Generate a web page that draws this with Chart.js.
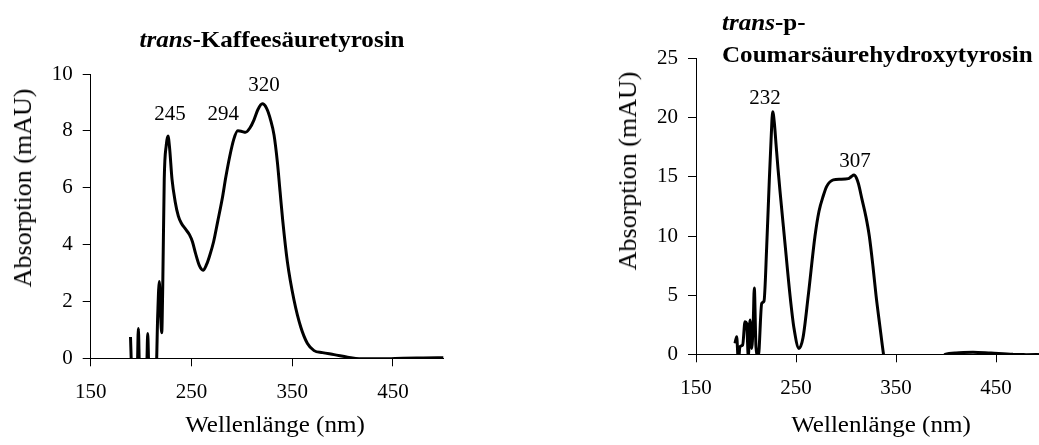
<!DOCTYPE html>
<html>
<head>
<meta charset="utf-8">
<script src="https://cdn.jsdelivr.net/npm/chart.js@4.4.1/dist/chart.umd.min.js"></script>
<style>
html,body{margin:0;padding:0;width:1039px;height:445px;overflow:hidden;background:#fff;}
.wrap{position:absolute;top:0;height:445px;}
.t{position:absolute;font-family:'Liberation Serif','Times New Roman',serif;color:#000;white-space:nowrap;line-height:1;}
</style>
</head>
<body>
<div class="wrap" style="left:0;width:520px"><canvas id="c1"></canvas></div>
<div class="wrap" style="left:520px;width:560px"><canvas id="c2"></canvas></div>

<div class="t" style="left:272px;top:28px;font-size:23px;font-weight:bold;transform:translateX(-50%) scaleX(1.09)"><i>trans</i>-Kaffeesäuretyrosin</div>
<div class="t" style="left:722px;top:11px;font-size:23px;font-weight:bold;transform-origin:0 0;transform:scaleX(1.09)"><i>trans</i>-p-</div>
<div class="t" style="left:722px;top:43px;font-size:23px;font-weight:bold;transform-origin:0 0;transform:scaleX(1.09)">Coumarsäurehydroxytyrosin</div>

<div class="t" style="left:22.5px;top:187.5px;font-size:26px;transform:translate(-50%,-50%) rotate(-90deg)">Absorption (mAU)</div>
<div class="t" style="left:627.5px;top:171px;font-size:26px;transform:translate(-50%,-50%) rotate(-90deg)">Absorption (mAU)</div>

<div class="t" style="left:275px;top:413px;font-size:23px;transform:translateX(-50%) scaleX(1.09)">Wellenlänge (nm)</div>
<div class="t" style="left:881px;top:413px;font-size:23px;transform:translateX(-50%) scaleX(1.09)">Wellenlänge (nm)</div>

<script>
// ---------- data ----------
const xTicks = [150, 250, 350, 450];
const leftYTicks = [0, 2, 4, 6, 8, 10];
const rightYTicks = [0, 5, 10, 15, 20, 25];

const leftWavelength = [189.5, 190.8, 196.2, 197.3, 198.5, 205.5, 206.6, 207.8, 215.0, 216.5, 218.1, 219.3, 220.5, 221.5, 223.0, 225.0, 226.7, 228.3, 230.7, 233.9, 237, 240, 244, 248, 251, 254, 258, 261.5, 265, 268, 272, 276, 280.5, 284, 288, 292, 296, 300, 303.7, 308, 312, 316, 320.3, 324.5, 328.6, 332, 335.3, 338, 340.6, 345.2, 351.8, 358.5, 365, 371.7, 380, 391.6, 405, 416.5, 440, 460, 480, 501];
const leftAbsorption = [0.75, -0.4, -0.4, 1.05, -0.4, -0.4, 0.87, -0.4, -0.4, 1.5, 2.7, 1.6, 0.9, 2.5, 6.3, 7.5, 7.82, 7.4, 6.3, 5.5, 5.0, 4.75, 4.55, 4.35, 4.1, 3.7, 3.25, 3.1, 3.3, 3.6, 4.1, 4.8, 5.6, 6.35, 7.1, 7.7, 8.0, 7.98, 7.95, 8.1, 8.38, 8.75, 8.95, 8.8, 8.38, 7.85, 6.9, 5.85, 4.85, 3.4, 2.05, 1.1, 0.53, 0.27, 0.2, 0.13, 0.04, -0.02, -0.02, 0, 0.01, 0.02];

const rightWavelength = [189, 190.7, 192.3, 194, 196.7, 199, 200.7, 202.3, 204, 205.7, 207.3, 208.3, 210, 212.3, 215.7, 218, 220.7, 223.3, 225, 226.7, 228.3, 230, 232, 234, 238.3, 244, 248, 253, 257, 262.3, 269, 273, 277.3, 280.7, 287.3, 294, 302.3, 305, 308, 310.5, 312.5, 316, 320, 323.3, 327, 330, 334, 337.5, 342, 355, 370, 385, 395, 399, 410, 427, 445, 467, 480, 500];
const rightAbsorption = [0.93, 1.49, -0.6, 0.64, 0.8, 2.76, 2.6, -0.2, 2.9, 0.5, 2.9, 5.6, 0.6, -0.2, 4.3, 4.5, 9.1, 14.7, 18, 20.5, 19.6, 17.8, 15.7, 13.8, 10, 5, 2.2, 0.5, 1.4, 5, 10, 12.1, 13.4, 14.2, 14.75, 14.8, 14.85, 15.0, 15.15, 14.9, 14.4, 13.1, 11.6, 10, 7.4, 5, 2.3, 0, -2.5, -5, -5, -3, -1, 0, 0.12, 0.18, 0.1, 0, -0.03, -0.03];

// peak annotations (text, and anchor in data units)
const leftPeakLabels = ['245', '294', '320'];
const leftPeakLabelX = [228.7, 281.6, 322];
const leftPeakLabelY = [8.56, 8.56, 9.61];
const rightPeakLabels = ['232', '307'];
const rightPeakLabelX = [219, 309];
const rightPeakLabelY = [21.67, 16.28];

// ---------- drawing ----------
const FONT = "'Liberation Serif','Times New Roman',serif";

const peakLabelPlugin = {
  id: 'peakLabels',
  afterDatasetsDraw(chart, args, opts) {
    const {ctx} = chart;
    const xs = chart.scales.x, ys = chart.scales.y;
    ctx.save();
    ctx.font = '21px ' + FONT;
    ctx.fillStyle = '#000';
    ctx.textAlign = 'center';
    ctx.textBaseline = 'middle';
    opts.texts.forEach((t, i) => {
      ctx.fillText(t, xs.getPixelForValue(opts.xs[i]), ys.getPixelForValue(opts.ys[i]));
    });
    ctx.restore();
  }
};

function makeChart(id, wl, ab, yMax, yTicks, yWidth, padding, labels) {
  return new Chart(document.getElementById(id), {
    type: 'line',
    data: {
      datasets: [{
        data: wl.map((w, i) => ({x: w, y: ab[i]})),
        borderColor: '#000',
        borderWidth: 3,
        pointRadius: 0,
        fill: false,
        cubicInterpolationMode: 'monotone'
      }]
    },
    options: {
      responsive: true,
      maintainAspectRatio: false,
      animation: false,
      layout: {padding: padding},
      plugins: {
        legend: {display: false},
        tooltip: {enabled: false},
        peakLabels: labels
      },
      scales: {
        x: {
          type: 'linear', min: 150, max: 500,
          afterBuildTicks: s => { s.ticks = xTicks.map(v => ({value: v})); },
          afterFit: s => { s.height = 60; },
          grid: {drawOnChartArea: false, color: '#000', tickLength: 8, tickWidth: 1},
          border: {display: true, color: '#000', width: 1},
          ticks: {color: '#000', font: {family: FONT, size: 21}, padding: 14, maxRotation: 0, autoSkip: false}
        },
        y: {
          type: 'linear', min: 0, max: yMax,
          afterBuildTicks: s => { s.ticks = yTicks.map(v => ({value: v})); },
          afterFit: s => { s.width = yWidth; },
          grid: {drawOnChartArea: false, color: '#000', tickLength: 8, tickWidth: 1},
          border: {display: true, color: '#000', width: 1},
          ticks: {color: '#000', font: {family: FONT, size: 21}, padding: 10}
        }
      }
    },
    plugins: [peakLabelPlugin]
  });
}

makeChart('c1', leftWavelength, leftAbsorption, 10, leftYTicks, 90.7,
  {left: 0, top: 74, right: 76.7, bottom: 26.7},
  {texts: leftPeakLabels, xs: leftPeakLabelX, ys: leftPeakLabelY});
makeChart('c2', rightWavelength, rightAbsorption, 25, rightYTicks, 176,
  {left: 0, top: 58.6, right: 34, bottom: 30.7},
  {texts: rightPeakLabels, xs: rightPeakLabelX, ys: rightPeakLabelY});
</script>
</body>
</html>
